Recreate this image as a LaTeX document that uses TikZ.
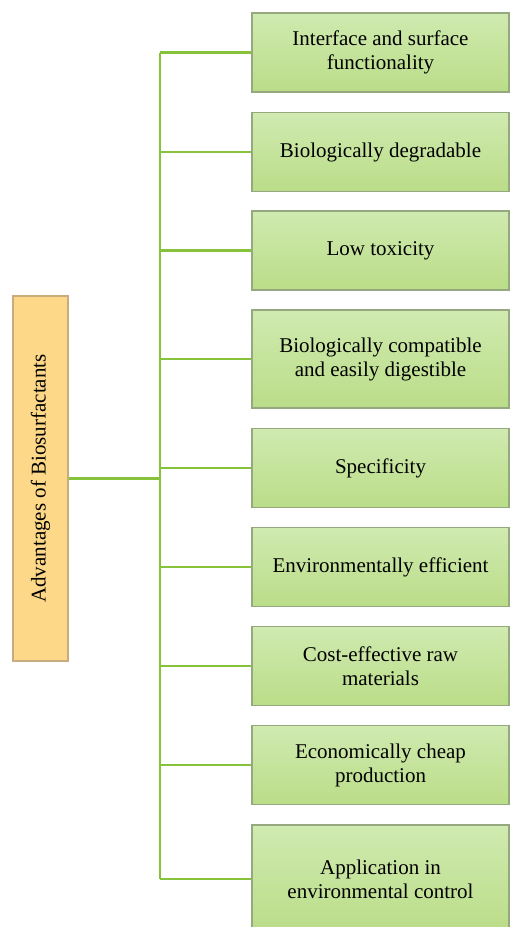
\documentclass[tikz,border=0pt]{standalone}
\usepackage{fontspec}
\setmainfont{Liberation Serif}
\usetikzlibrary{positioning}
\definecolor{branchgreen}{RGB}{134,194,58}
\definecolor{leaftop}{RGB}{208,234,176}
\definecolor{leafbot}{RGB}{186,221,136}
\definecolor{leafedge}{RGB}{150,168,128}
\definecolor{rootfill}{RGB}{253,216,136}
\definecolor{rootedge}{RGB}{200,172,128}
\tikzset{
  rootbox/.style={rectangle, draw=rootedge, line width=0.6pt, fill=rootfill, rotate=90,
    minimum width=182.5pt, minimum height=27.5pt, inner sep=0pt,
    font=\fontsize{10.5}{12}\selectfont},
  advbox/.style={rectangle, draw=leafedge, line width=0.6pt, top color=leaftop, bottom color=leafbot,
    minimum width=128.5pt, minimum height=39.5pt, inner sep=2pt, align=center,
    font=\fontsize{10.5}{12}\selectfont},
  branch/.style={draw=branchgreen, line width=1.1pt},
}

\begin{document}
\begin{tikzpicture}[x=0.5pt, y=-0.5pt]

  %% ============================================
  %% FRAME (one unit = one pixel of the reference)
  %% ============================================
  \clip (0,0) rectangle (513,927);

  % Root node
  \node[rootbox] (root) at (40.5,478.5) {Advantages of Biosurfactants};

  % Trunk position
  \coordinate (trunk) at (160,478.5);

  % Advantages
  \node[advbox] (b1) at (380.5,52.5) {Interface and surface\\functionality};
  \node[advbox] (b2) at (380.5,152) {Biologically degradable};
  \node[advbox] (b3) at (380.5,250.5) {Low toxicity};
  \node[advbox, minimum height=49pt] (b4) at (380.5,359) {Biologically compatible\\and easily digestible};
  \node[advbox] (b5) at (380.5,468) {Specificity};
  \node[advbox] (b6) at (380.5,567) {Environmentally efficient};
  \node[advbox] (b7) at (380.5,666) {Cost-effective raw\\materials};
  \node[advbox] (b8) at (380.5,765) {Economically cheap\\production};
  \node[advbox, minimum height=54pt] (b9) at (380.5,879) {Application in\\environmental control};

  % Root to trunk
  \draw[branch] (root.south) -- (trunk);

  % Trunk
  \draw[branch] (trunk |- b1.west) -- (trunk |- b9.west);

  % Trunk to advantages
  \draw[branch] (trunk |- b1.west) -- (b1.west);
  \draw[branch] (trunk |- b2.west) -- (b2.west);
  \draw[branch] (trunk |- b3.west) -- (b3.west);
  \draw[branch] (trunk |- b4.west) -- (b4.west);
  \draw[branch] (trunk |- b5.west) -- (b5.west);
  \draw[branch] (trunk |- b6.west) -- (b6.west);
  \draw[branch] (trunk |- b7.west) -- (b7.west);
  \draw[branch] (trunk |- b8.west) -- (b8.west);
  \draw[branch] (trunk |- b9.west) -- (b9.west);
\end{tikzpicture}
\end{document}
